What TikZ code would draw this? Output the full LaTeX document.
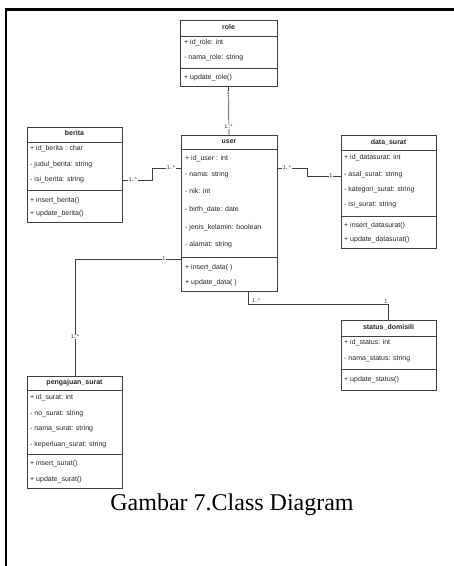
\documentclass[tikz,border=0pt]{standalone}
\usepackage{fontspec}
\setmainfont{Liberation Serif}
\newfontfamily\umlfont{Liberation Sans}
\usetikzlibrary{fit}
\tikzset{
  classbox/.style={draw=black!75, line width=0.7pt, inner sep=0pt, fill=white},
  hdr/.style={inner sep=0pt, text height=5pt, text depth=1.5pt, text=black!85,
    font=\umlfont\fontsize{7}{8}\selectfont\bfseries},
  row/.style={anchor=west, inner sep=0pt, text height=5pt, text depth=1.5pt, text=black!85,
    font=\umlfont\fontsize{7}{8}\selectfont},
  assoc/.style={draw=black!75, line width=0.7pt},
  mult/.style={fill=white, inner sep=0.5pt, text=black!80, font=\umlfont\fontsize{5.5}{6}\selectfont}
}
\begin{document}
\begin{tikzpicture}[x=1pt,y=-1pt]
  \useasboundingbox (0,0) rectangle (454,566);
  % frame
  \draw[line width=2.5pt] (6,566) -- (6,9.5) -- (454,9.5);

  % role
  \node[classbox, fit={(180,20) (277,86)}] (role) {};
  \node[hdr] (rolehd) at (228.5,28) {role};
  \draw[black!75, line width=0.7pt] (role.west |- 0,36) -- (role.east |- 0,36);
  \draw[black!75, line width=0.7pt] (role.west |- 0,68) -- (role.east |- 0,68);
  \foreach \y/\t in {43/{+ id\_role: int}, 58/{- nama\_role: string}, 78/{+ update\_role()}}
    \node[row] at (184,\y) {\t};

  % user
  \node[classbox, fit={(181,135) (277,291)}] (user) {};
  \node[hdr] (userhd) at (229,142) {user};
  \draw[black!75, line width=0.7pt] (user.west |- 0,149) -- (user.east |- 0,149);
  \draw[black!75, line width=0.7pt] (user.west |- 0,257) -- (user.east |- 0,257);
  \foreach \y/\t in {159/{+ id\_user : int}, 175/{- nama: string}, 192/{- nik: int},
      210/{- birth\_date: date}, 228/{- jenis\_kelamin: boolean}, 245/{- alamat: string},
      268/{+ insert\_data( )}, 283/{+ update\_data( )}}
    \node[row] at (185,\y) {\t};

  % berita
  \node[classbox, fit={(27,127) (122,222)}] (berita) {};
  \node[hdr] (beritahd) at (74.5,134) {berita};
  \draw[black!75, line width=0.7pt] (berita.west |- 0,142) -- (berita.east |- 0,142);
  \draw[black!75, line width=0.7pt] (berita.west |- 0,190) -- (berita.east |- 0,190);
  \foreach \y/\t in {149/{+ id\_berita : char}, 165/{- judul\_berita: string},
      180/{- isi\_berita: string}, 201/{+ insert\_berita()}, 214/{+ update\_berita()}}
    \node[row] at (30,\y) {\t};

  % data_surat
  \node[classbox, fit={(341,135) (436,248)}] (datasurat) {};
  \node[hdr] (datasurathd) at (388.5,143) {data\_surat};
  \draw[black!75, line width=0.7pt] (datasurat.west |- 0,150) -- (datasurat.east |- 0,150);
  \draw[black!75, line width=0.7pt] (datasurat.west |- 0,216) -- (datasurat.east |- 0,216);
  \foreach \y/\t in {158/{+ id\_datasurat: int}, 175/{- asal\_surat: string},
      190/{- kategori\_surat: string}, 205/{- isi\_surat: string},
      226/{+ insert\_datasurat()}, 240/{+ update\_datasurat()}}
    \node[row] at (344,\y) {\t};

  % status_domisili
  \node[classbox, fit={(341,320) (436,390)}] (status) {};
  \node[hdr] (statushd) at (388.5,328) {status\_domisili};
  \draw[black!75, line width=0.7pt] (status.west |- 0,336) -- (status.east |- 0,336);
  \draw[black!75, line width=0.7pt] (status.west |- 0,369) -- (status.east |- 0,369);
  \foreach \y/\t in {343/{+ id\_status: int}, 359/{- nama\_status: string},
      380/{+ update\_status()}}
    \node[row] at (344,\y) {\t};

  % pengajuan_surat
  \node[classbox, fit={(27,376) (122,488)}] (pengajuan) {};
  \node[hdr] (pengajuanhd) at (74.5,383) {pengajuan\_surat};
  \draw[black!75, line width=0.7pt] (pengajuan.west |- 0,390) -- (pengajuan.east |- 0,390);
  \draw[black!75, line width=0.7pt] (pengajuan.west |- 0,454) -- (pengajuan.east |- 0,454);
  \foreach \y/\t in {398/{+ id\_surat: int}, 414/{- no\_surat: string},
      429/{- nama\_surat: string}, 445/{- keperluan\_surat: string},
      464/{+ insert\_surat()}, 480/{+ update\_surat()}}
    \node[row] at (30,\y) {\t};

  % associations
  \draw[assoc] (role.south) -- (user.north);
  \node[mult] at (228.5,93) {1};
  \node[mult] at (228.5,127) {1..*};

  \draw[assoc] (berita.east |- 0,180) -- (152,180) -- (152,168) -- (user.west |- 0,168);
  \node[mult] at (133,180) {1..*};
  \node[mult] at (171,168) {1..*};

  \draw[assoc] (user.east |- 0,168) -- (307,168) -- (307,176) -- (datasurat.west |- 0,176);
  \node[mult] at (287,168) {1..*};
  \node[mult] at (331,176) {1};

  \draw[assoc] (user.south -| 248,0) -- (248,304) -- (388,304) -- (status.north -| 388,0);
  \node[mult] at (256,301) {1..*};
  \node[mult] at (386,302) {1};

  \draw[assoc] (user.west |- 0,259) -- (75,259) -- (pengajuan.north -| 75,0);
  \node[mult] at (164,259) {1};
  \node[mult] at (75,337) {1..*};

  % caption
  \node[font=\fontsize{24}{28}\selectfont] (caption) at (232,505) {Gambar 7.Class Diagram};
\end{tikzpicture}
\end{document}
